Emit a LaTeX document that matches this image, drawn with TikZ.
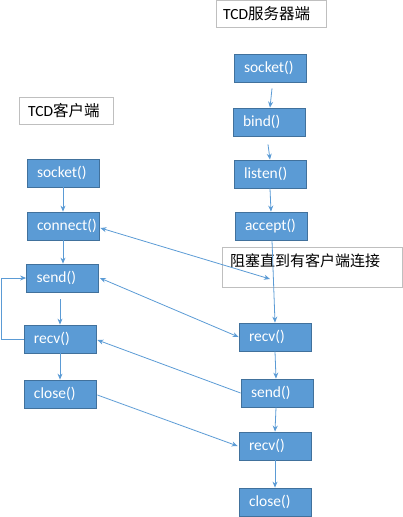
\documentclass[tikz,border=0pt]{standalone}
\usepackage{fontspec}
\setmainfont{Carlito}
\newfontfamily\cjk{Noto Sans CJK SC}
\usetikzlibrary{arrows.meta,calc}
\definecolor{boxfill}{HTML}{5B9BD5}
\definecolor{boxline}{HTML}{41719C}
\definecolor{arrcol}{HTML}{5B9BD5}
\definecolor{graybox}{HTML}{BFBFBF}
\tikzset{
  fn/.style={draw=boxline, line width=0.8pt, fill=boxfill, text=white,
    minimum height=28pt, text width=52pt, inner xsep=10pt, inner ysep=0pt, align=left,
    font=\fontsize{15.5}{18}\selectfont},
  titlebox/.style={draw=graybox, line width=0.7pt, fill=white, text=black, inner sep=0pt},
  titletext/.style={anchor=west, inner sep=0pt, font=\fontsize{15.5}{18}\selectfont},
  arr/.style={draw=arrcol, line width=0.8pt, -{Stealth[length=6pt,width=5pt]}},
  darr/.style={draw=arrcol, line width=0.8pt, {Stealth[length=6pt,width=5pt]}-{Stealth[length=6pt,width=5pt]}},
  loopline/.style={draw=arrcol, line width=0.8pt}
}
\begin{document}
\begin{tikzpicture}[x=1pt,y=-1pt]
\useasboundingbox (0,0) rectangle (402,517);
% title boxes
\node[titlebox, minimum width=110pt, minimum height=27pt, anchor=north west] (stitle) at (216,0) {};
\node[titletext] (stitletext) at (223,14) {TCD{\cjk 服务器端}};
\node[titlebox, minimum width=94pt, minimum height=27pt, anchor=north west] (ctitle) at (19,97) {};
\node[titletext] (ctitletext) at (28,111) {TCD{\cjk 客户端}};
% blocking box
\node[titlebox, minimum width=180pt, minimum height=40pt, anchor=north west] (block) at (222,247) {};
\node[anchor=west, inner sep=0pt, font=\fontsize{15}{18}\selectfont] (blocktext) at (230,261) {\cjk 阻塞直到有客户端连接};
% server nodes
\node[fn] (ssock) at (270,68) {socket()};
\node[fn] (sbind) at (269,122) {bind()};
\node[fn] (slist) at (270,174) {listen()};
\node[fn] (sacc) at (271,226) {accept()};
\node[fn] (srecv) at (275,337) {recv()};
\node[fn] (ssend) at (277,393) {send()};
\node[fn] (srecvb) at (275,446) {recv()};
\node[fn] (sclose) at (275,502) {close()};
% client nodes
\node[fn] (csock) at (63,173) {socket()};
\node[fn] (cconn) at (63,226) {connect()};
\node[fn] (csend) at (62.5,278) {send()};
\node[fn] (crecv) at (60,339) {recv()};
\node[fn] (cclose) at (60,394) {close()};
% coordinates
\coordinate (blk) at (270,279);
\coordinate (loopa) at (1,339);
\coordinate (loopb) at (1,278);
% server vertical arrows
\draw[arr] ($(ssock.south)+(2,6)$) -- ($(sbind.north)+(1,0)$);
\draw[arr] ($(sbind.south)+(-1,8)$) -- (slist.north);
\draw[arr] (slist.south) -- (sacc.north);
\draw[arr] ($(sacc.south)+(1,0)$) -- (srecv.north);
\draw[arr] (srecv.south) -- ($(ssend.north)+(-1,0)$);
\draw[arr] ($(ssend.south)+(-1,0)$) -- (srecvb.north);
\draw[arr] (srecvb.south) -- (sclose.north);
% client vertical arrows
\draw[arr] (csock.south) -- (cconn.north);
\draw[arr] (cconn.south) -- ($(csend.north)+(0.5,0)$);
\draw[arr] ($(csend.south)+(-2.5,7)$) -- (crecv.north);
\draw[arr] (crecv.south) -- (cclose.north);
% loop
\draw[loopline] (crecv.west) -- (loopa) -- (loopb);
\draw[arr] (loopb) -- (csend.west);
% cross arrows
\draw[darr] ($(cconn.east)+(1,2)$) -- (blk);
\draw[darr] ($(csend.east)+(1,0)$) -- (srecv.west);
\draw[arr] (ssend.west) -- ($(crecv.east)+(1,1)$);
\draw[arr] ($(cclose.east)+(1,1)$) -- ($(srecvb.west)+(-1,0)$);
\end{tikzpicture}
\end{document}
